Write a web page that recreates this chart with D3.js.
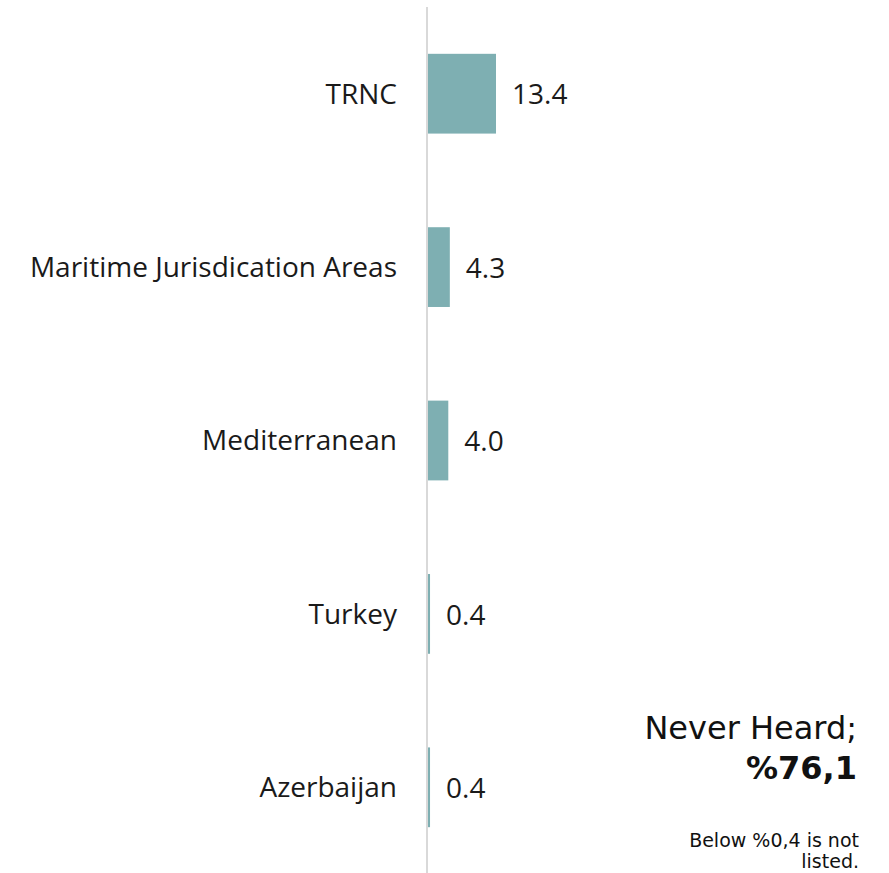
<!DOCTYPE html>
<html><head><meta charset="utf-8">
<script src="https://cdn.jsdelivr.net/npm/d3@7"></script>
<style>body{margin:0;background:#fff}svg{display:block}</style>
</head><body>
<script>
const categories = ["TRNC","Maritime Jurisdication Areas","Mediterranean","Turkey","Azerbaijan"];
const values = [13.4, 4.3, 4.0, 0.4, 0.4];
const noteTitle = "Never Heard;";
const noteValue = "%76,1";
const footnote = ["Below %0,4 is not", "listed."];

const W = 889, H = 873;
const svg = d3.select("body").append("svg").attr("width", W).attr("height", H);
const x0 = 428;
const x = d3.scaleLinear().domain([0, 13.4]).range([x0, 496]);
const y = d3.scaleBand().domain(categories).range([7, 874]).paddingInner(0.54).paddingOuter(0.27);

svg.selectAll("rect.bar").data(values).enter().append("rect")
  .attr("class","bar")
  .attr("x", x(0))
  .attr("y", (d,i) => y(categories[i]))
  .attr("width", d => Math.max(1, x(d) - x(0)))
  .attr("height", y.bandwidth())
  .attr("fill", "#7eafb2");

svg.append("line").attr("x1", 427).attr("x2", 427).attr("y1", 7).attr("y2", H)
  .attr("stroke", "#d9d9d9").attr("stroke-width", 2);

const font = "'Open Sans', sans-serif";
svg.selectAll("text.cat").data(categories).enter().append("text")
  .attr("class","cat")
  .attr("x", 397)
  .attr("y", d => y(d) + y.bandwidth()/2)
  .attr("dy", "0.35em")
  .attr("text-anchor","end")
  .attr("font-family", font).attr("font-size", 28).attr("fill","#1a1a1a")
  .text(d => d);

svg.selectAll("text.val").data(values).enter().append("text")
  .attr("class","val")
  .attr("x", d => x(d) + 16)
  .attr("y", (d,i) => y(categories[i]) + y.bandwidth()/2)
  .attr("dy", "0.38em")
  .attr("font-family", font).attr("font-size", 28).attr("fill","#1a1a1a")
  .text(d => d.toFixed(1));

const vf = "'DejaVu Sans', Verdana, sans-serif";
svg.append("text").attr("x", 857).attr("y", 739).attr("text-anchor","end")
  .attr("font-family", vf).attr("font-size", 32).attr("fill","#111").text(noteTitle);
svg.append("text").attr("x", 857).attr("y", 779).attr("text-anchor","end")
  .attr("font-family", vf).attr("font-size", 32).attr("font-weight","bold").attr("fill","#111").text(noteValue);
svg.selectAll("text.fn").data(footnote).enter().append("text")
  .attr("x", 859).attr("y", (d,i) => 847 + i*21).attr("text-anchor","end")
  .attr("font-family", vf).attr("font-size", 19).attr("fill","#111").text(d => d);
</script>
</body></html>
